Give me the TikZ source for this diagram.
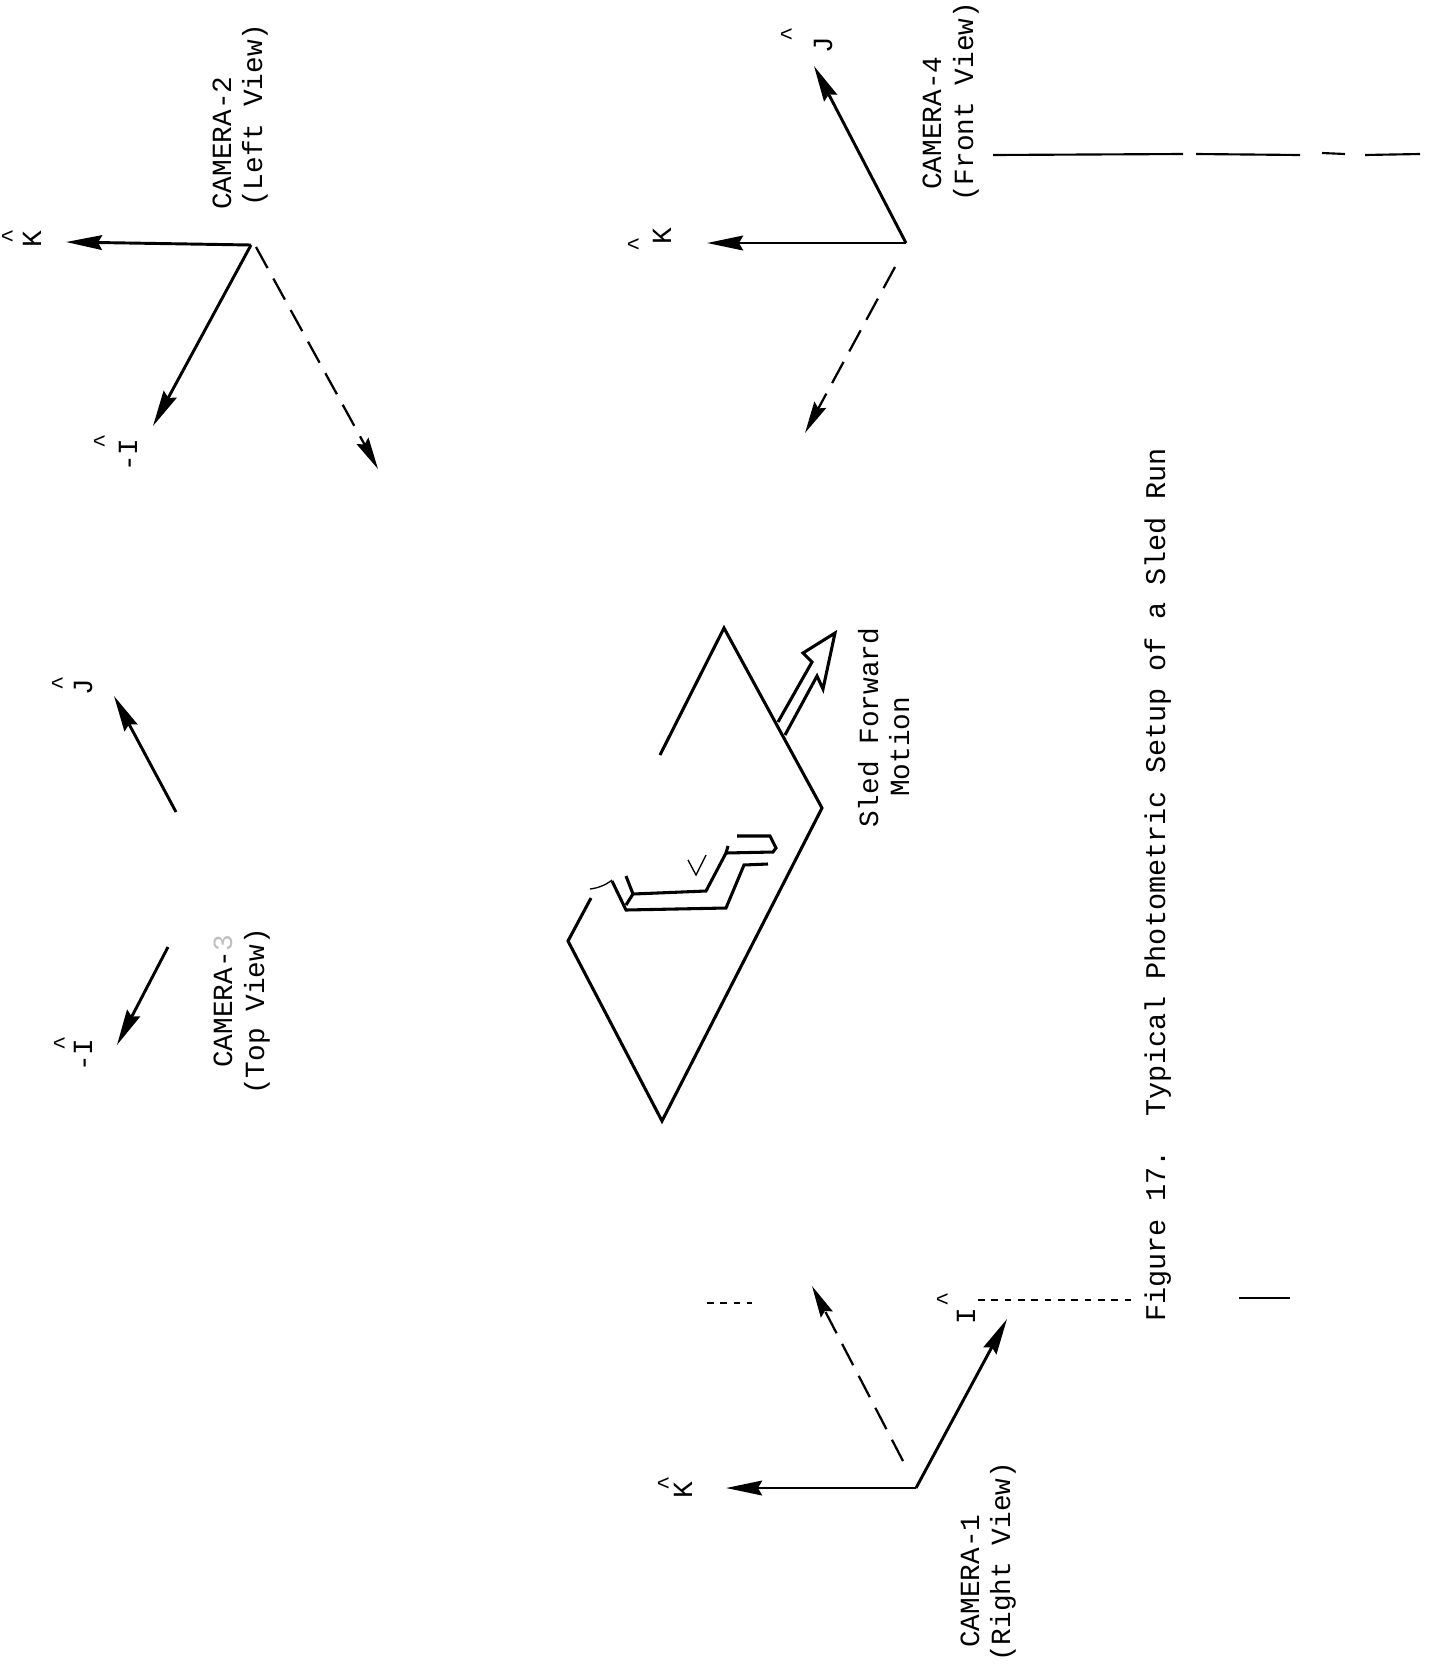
\documentclass[tikz,border=0pt]{standalone}
\usepackage{fontspec}
\setmainfont{Liberation Mono}
\usepackage{xcolor}
\usetikzlibrary{arrows.meta}
\tikzset{
  lbl/.style={rotate=90,anchor=west,inner sep=0pt,text height=13.5pt,text depth=0pt,font=\fontsize{20.8}{24}\selectfont},
  axis/.style={rotate=90,anchor=center,inner sep=0pt,text height=13.5pt,text depth=0pt,font=\fontsize{20.8}{24}\selectfont},
  hatm/.style={rotate=90,anchor=center,inner sep=0pt,xshift=2.5pt,font=\fontsize{18}{24}\selectfont},
  vec/.style={-{Stealth[length=27pt,width=11pt,inset=3pt]},line width=2.2pt,black},
  dvec/.style={-{Stealth[length=24pt,width=10pt,inset=3pt]},line width=1.7pt,black,dash pattern=on 18pt off 9pt},
  sled/.style={line width=2.3pt,black,line join=miter},
  scan/.style={line width=1.6pt,black}
}
\begin{document}
\begin{tikzpicture}[x=0.75pt,y=-0.75pt]
\path[use as bounding box,fill=white] (0,0) rectangle (1430,1675);
% camera 2
\coordinate (c2) at (251,245);
\coordinate (c2k) at (66,242);
\coordinate (c2i) at (153,426);
\coordinate (c2d) at (256,247);
\coordinate (c2e) at (378,469);
\draw[vec] (c2)--(c2k); \draw[vec] (c2)--(c2i); \draw[dvec] (c2d)--(c2e);
\node[lbl] (cam2) at (222,210) {CAMERA-2};
\node[lbl] (left) at (253,207) {(Left View)};
\node[axis] (k2) at (32,239) {K};
\node[hatm] (k2h) at (10,240) {\^{}};
\node[axis] (i2) at (128,455) {-I};
\node[hatm] (i2h) at (102,445) {\^{}};
% camera 4
\coordinate (c4) at (906,243);
\coordinate (c4k) at (707,243);
\coordinate (c4j) at (814,66);
\coordinate (c4d) at (895,267);
\coordinate (c4e) at (805,433);
\draw[vec] (c4)--(c4k); \draw[vec] (c4)--(c4j); \draw[dvec] (c4d)--(c4e);
\node[lbl] (cam4) at (932,190) {CAMERA-4};
\node[lbl] (front) at (964,202) {(Front View)};
\node[axis] (k4) at (662,236) {K};
\node[hatm] (k4h) at (636,248) {\^{}};
\node[axis] (j4) at (823,45) {J};
\node[hatm] (j4h) at (789,38) {\^{}};
% camera 3
\coordinate (c3a) at (176,812);
\coordinate (c3j) at (114,696);
\coordinate (c3b) at (168,947);
\coordinate (c3i) at (117,1045);
\draw[vec] (c3a)--(c3j); \draw[vec] (c3b)--(c3i);
\node[lbl] (cam3) at (223,1068) {CAMERA-\textcolor{black!25}{3}};
\node[lbl] (top) at (255,1095) {(Top View)};
\node[axis] (j3) at (83,687) {J};
\node[hatm] (j3h) at (60,687) {\^{}};
\node[axis] (i3) at (83,1055) {-I};
\node[hatm] (i3h) at (62,1047) {\^{}};
% camera 1
\coordinate (c1) at (916,1488);
\coordinate (c1k) at (726,1488);
\coordinate (c1i) at (1007,1319);
\coordinate (c1d) at (903,1461);
\coordinate (c1e) at (812,1286);
\draw[vec] (c1)--(c1k); \draw[vec] (c1)--(c1i); \draw[dvec] (c1d)--(c1e);
\node[lbl] (cam1) at (970,1648) {CAMERA-1};
\node[lbl] (right) at (1001,1662) {(Right View)};
\node[axis] (k1) at (683,1490) {K};
\node[hatm] (k1h) at (666,1487) {\^{}};
\node[axis] (i1) at (966,1316) {I};
\node[hatm] (i1h) at (945,1303) {\^{}};
% sled
\draw[sled] (660,755)--(724,628)--(822,808)--(662,1121)--(568,941)--(591,898);
\draw[line width=1pt] (590,889) .. controls (598,888) and (606,885) .. (612,880);
\draw[sled] (612,881)--(626,910)--(726,908)--(744,865)--(768,864);
\draw[sled] (626,876)--(633,894)--(706,891)--(726,853)--(773,852)--(776,848)--(770,836)--(737,836);
\draw[sled] (626,905)--(633,894);
\draw[sled] (726,853)--(728,846);
\draw[line width=1pt] (688,860)--(696,875)--(706,855);
\draw[sled] (778,722)--(812,662)--(803,653)--(835,633)--(823,689)--(817,676)--(785,735);
\node[lbl] (fwd) at (869,828) {Sled Forward};
\node[lbl] (mot) at (900,797) {Motion};
% caption
\node[lbl,font=\fontsize{21.4}{24}\selectfont] (cap) at (1156,1322) {Figure 17.~~Typical Photometric Setup of a Sled Run};
% scan marks
\draw[scan] (993,155)--(1183,154) (1196,154)--(1300,155) (1322,153)--(1345,154) (1365,155)--(1420,154);
\draw[scan,line width=0.8pt,dash pattern=on 5pt off 5pt] (707,1303)--(752,1303) (978,1300)--(1133,1300);
\draw[scan,line width=1.1pt] (1239,1298)--(1290,1298);
\end{tikzpicture}
\end{document}
